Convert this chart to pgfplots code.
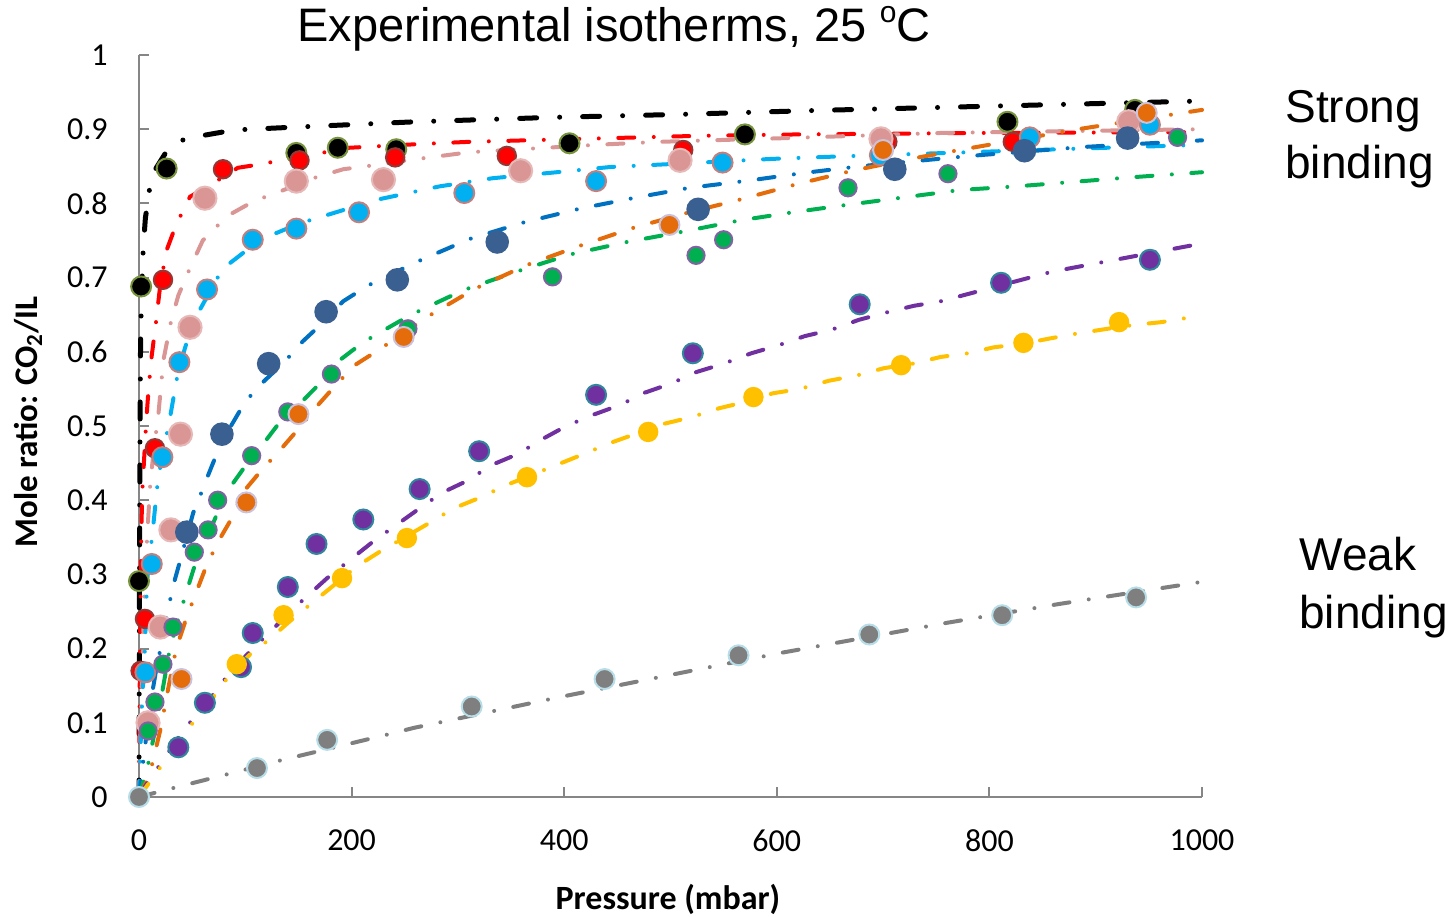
\documentclass[border=0pt]{standalone}
\usepackage{pgfplots}
\pgfplotsset{compat=1.18}
\usepackage{fontspec}
\setmainfont{Liberation Sans}
\newfontfamily\calibri{Carlito}
\definecolor{cOlive}{HTML}{77933C}
\definecolor{cRed}{HTML}{FF0000}
\definecolor{cDarkRed}{HTML}{953735}
\definecolor{cPink}{HTML}{D99694}
\definecolor{cPinkEdge}{HTML}{E6B9B8}
\definecolor{cCyan}{HTML}{00B0F0}
\definecolor{cCyanEdge}{HTML}{C0807F}
\definecolor{cBlueM}{HTML}{3A6091}
\definecolor{cBlueL}{HTML}{0070C0}
\definecolor{cGreen}{HTML}{00B050}
\definecolor{cGreenEdge}{HTML}{8064A2}
\definecolor{cOrange}{HTML}{E46C0A}
\definecolor{cOrangeEdge}{HTML}{CCC1DA}
\definecolor{cPurple}{HTML}{7030A0}
\definecolor{cPurpleEdge}{HTML}{31859C}
\definecolor{cYellow}{HTML}{FFC000}
\definecolor{cGray}{HTML}{7F7F7F}
\definecolor{cGrayEdge}{HTML}{B7DEE8}
\definecolor{axisgray}{HTML}{868686}
\pgfplotsset{
 fitline/.style={line width=2pt, line cap=round, dash pattern=on 8pt off 9.75pt on 0pt off 9.75pt, mark=none},
 dat/.style 2 args={only marks, mark=*, mark size=5pt, mark options={solid, fill=#1, draw=#2, line width=1pt}},
}
\begin{document}
\begin{tikzpicture}
\path[use as bounding box] (0,0) rectangle (728pt,458pt);
\begin{axis}[at={(69.5pt,59.5pt)}, anchor=south west, scale only axis,
 width=531.5pt, height=371pt, xmin=0, xmax=1000, ymin=0, ymax=1,
 axis lines=left, axis line style={-, draw=axisgray, line width=1pt},
 tick align=inside, major tick length=5pt, tick style={draw=axisgray, line width=1pt},
 xtick={0,200,400,600,800,1000}, xticklabels={0,200,400,600,800,1000},
 ytick={0,0.1,0.2,0.3,0.4,0.5,0.6,0.7,0.8,0.9,1},
 yticklabels={0,0.1,0.2,0.3,0.4,0.5,0.6,0.7,0.8,0.9,1},
 xticklabel style={font=\calibri\fontsize{16}{19}\selectfont, anchor=north, inner sep=0pt, yshift=-16pt},
 yticklabel style={font=\calibri\fontsize{16}{19}\selectfont, anchor=east, inner sep=0pt, xshift=-15.5pt},
 clip=false]
% fitted curves
\addplot[fitline, black, line width=2.5pt, dash pattern=on 8.5pt off 11.5pt on 0pt off 11.5pt] coordinates {(0,0)(0.3,0.2)(0.7,0.4)(1,0.5)(1.5,0.62)(2.5,0.68)(4,0.74)(6,0.78)(10,0.82)(15,0.845)(25,0.868)(40,0.885)(62,0.892)(90,0.899)(150,0.903)(260,0.910)(390,0.916)(510,0.920)(630,0.925)(800,0.931)(1000,0.938)};
\addplot[fitline, cRed] coordinates {(0,0)(0.5,0.12)(1,0.2)(1.5,0.28)(2,0.34)(3,0.41)(5,0.46)(7,0.51)(9,0.55)(12,0.595)(16,0.64)(20,0.69)(26,0.737)(32,0.76)(39,0.783)(48,0.809)(64,0.822)(93,0.848)(111,0.852)(126,0.856)(198,0.875)(264,0.88)(311,0.883)(471,0.889)(525,0.891)(622,0.893)(800,0.895)(1000,0.896)};
\addplot[fitline, cPink] coordinates {(0,0)(2,0.12)(4,0.22)(6,0.3)(8,0.36)(10.5,0.42)(14,0.47)(18,0.512)(23,0.589)(30,0.64)(37,0.676)(48,0.713)(60,0.75)(83,0.783)(108,0.803)(136,0.818)(164,0.834)(192,0.846)(224,0.852)(252,0.858)(311,0.869)(431,0.879)(490,0.883)(609,0.888)(756,0.895)(1000,0.9)};
\addplot[fitline, cCyan] coordinates {(0,0)(1,0.05)(3,0.13)(5.6,0.2)(7.5,0.29)(13,0.36)(18,0.43)(29,0.51)(37,0.575)(46,0.618)(57,0.656)(74,0.7)(86,0.72)(114,0.751)(151,0.773)(183,0.787)(224,0.805)(283,0.823)(333,0.834)(393,0.842)(443,0.849)(500,0.853)(596,0.86)(653,0.863)(760,0.868)(866,0.873)(1000,0.879)};
\addplot[fitline, cBlueL] coordinates {(0,0)(5,0.06)(10,0.12)(16,0.17)(21.6,0.21)(27,0.25)(32,0.284)(39,0.32)(51,0.383)(57,0.404)(64,0.43)(73,0.462)(86.5,0.5)(100,0.533)(118,0.561)(136,0.585)(154,0.614)(172,0.638)(192,0.668)(215,0.689)(261,0.721)(311,0.752)(361,0.774)(415,0.793)(468,0.808)(518,0.821)(575,0.831)(625,0.841)(678,0.85)(782,0.864)(888,0.876)(1000,0.885)};
\addplot[fitline, cGreen] coordinates {(0,0)(8,0.04)(18,0.11)(29,0.2)(38,0.245)(45,0.278)(52,0.31)(73,0.38)(86,0.418)(100,0.446)(118,0.478)(135,0.51)(154,0.534)(172,0.56)(190,0.59)(211,0.613)(234,0.632)(256,0.65)(305,0.683)(355,0.708)(405,0.731)(459,0.748)(512,0.762)(565,0.777)(615,0.788)(666,0.798)(719,0.808)(772,0.818)(826,0.823)(879,0.829)(932,0.835)(1000,0.842)};
\addplot[fitline, cOrange] coordinates {(0,0)(10,0.03)(20,0.09)(28,0.15)(35,0.2)(45,0.243)(63,0.31)(74,0.343)(87,0.375)(98,0.411)(115,0.44)(133,0.468)(150,0.496)(167,0.526)(185,0.555)(203,0.582)(226,0.603)(271,0.647)(316,0.685)(365,0.717)(415,0.743)(465,0.767)(515,0.787)(565,0.805)(619,0.826)(671,0.844)(722,0.859)(772,0.872)(879,0.899)(1000,0.926)};
\addplot[fitline, cPurple] coordinates {(0,0)(6,0.015)(19,0.042)(38,0.082)(50,0.104)(71,0.14)(83,0.163)(103,0.194)(120,0.218)(150,0.26)(177,0.295)(220,0.344)(262,0.387)(285,0.41)(310,0.427)(331,0.447)(356,0.462)(379,0.482)(402,0.5)(427,0.515)(452,0.528)(476,0.545)(500,0.557)(525,0.573)(550,0.584)(576,0.598)(602,0.609)(626,0.621)(652,0.63)(677,0.643)(703,0.653)(729,0.662)(754,0.668)(859,0.708)(1000,0.746)};
\addplot[fitline, cYellow] coordinates {(0,0)(20,0.04)(45,0.09)(65,0.125)(84,0.162)(105,0.193)(123,0.213)(142,0.237)(164,0.263)(183,0.285)(205,0.311)(227,0.331)(274,0.37)(296,0.389)(320,0.403)(345,0.42)(418,0.462)(443,0.477)(494,0.503)(520,0.512)(546,0.524)(572,0.533)(596,0.544)(622,0.55)(649,0.561)(675,0.568)(701,0.578)(728,0.584)(754,0.593)(780,0.598)(804,0.606)(832,0.611)(857,0.618)(884,0.625)(911,0.631)(935,0.636)(962,0.64)(1000,0.649)};
\addplot[fitline, cGray] coordinates {(0,0)(32,0.012)(84,0.031)(135,0.05)(187,0.068)(239,0.086)(258,0.093)(397,0.135)(603,0.194)(761,0.235)(865,0.26)(1000,0.29)};
% data points
\addplot[dat={black}{cOlive}] coordinates {(0,0.291)(2,0.688)(26,0.847)(148,0.868)(187,0.875)(242,0.873)(405,0.881)(570,0.893)(817,0.910)(937,0.926)};
\addplot[dat={cRed}{cDarkRed}, mark size=4.6pt] coordinates {(1.5,0.17)(5.6,0.24)(15,0.470)(22.6,0.697)(79,0.846)(151,0.858)(241,0.862)(346,0.864)(512,0.872)(704,0.883)(822,0.883)(931,0.89)};
\addplot[dat={cPink}{cPinkEdge}, mark size=5.8pt] coordinates {(8.5,0.1)(20,0.229)(30,0.36)(39,0.489)(48,0.633)(62,0.807)(148,0.830)(230,0.832)(359,0.844)(509,0.858)(698,0.887)(931,0.910)};
\addplot[dat={cCyan}{cCyanEdge}] coordinates {(6,0.168)(12,0.314)(22,0.458)(38,0.586)(64,0.684)(107,0.751)(148,0.766)(207,0.788)(306,0.814)(430,0.830)(549,0.855)(697,0.865)(838,0.889)(951,0.906)};
\addplot[dat={cBlueM}{cBlueM}, mark size=5.4pt] coordinates {(45,0.357)(78,0.489)(122,0.584)(176,0.654)(243,0.697)(337,0.748)(526,0.792)(711,0.846)(833,0.871)(930,0.888)};
\addplot[dat={cGreen}{cGreenEdge}, mark size=4.3pt] coordinates {(8.6,0.089)(15,0.128)(22.5,0.179)(32,0.229)(52,0.330)(65,0.36)(74,0.400)(106,0.460)(140,0.519)(181,0.570)(253,0.631)(389,0.701)(524,0.730)(550,0.751)(667,0.821)(761,0.840)(977,0.889)};
\addplot[dat={cOrange}{cOrangeEdge}] coordinates {(40,0.159)(101,0.397)(150,0.516)(249,0.620)(499,0.771)(700,0.872)(948,0.922)};
\addplot[dat={cPurple}{cPurpleEdge}] coordinates {(37,0.067)(62,0.127)(96,0.175)(107,0.221)(140,0.283)(167,0.341)(211,0.374)(264,0.415)(320,0.466)(430,0.542)(521,0.598)(678,0.664)(811,0.693)(951,0.724)};
\addplot[dat={cYellow}{cYellow}, mark size=4.6pt] coordinates {(92,0.179)(136,0.245)(191,0.295)(252,0.349)(365,0.431)(479,0.492)(578,0.539)(717,0.582)(832,0.612)(922,0.640)};
\addplot[dat={cGray}{cGrayEdge}] coordinates {(0,0)(111,0.039)(177,0.077)(313,0.122)(438,0.159)(564,0.191)(687,0.219)(812,0.245)(938,0.269)};
\end{axis}
\node[anchor=base, inner sep=0pt, font=\fontsize{23.5}{27}\selectfont] at (307pt,437pt) {Experimental isotherms, 25 \raisebox{0.42em}{\fontsize{15}{15}\selectfont o}C};
\node[anchor=base west, inner sep=0pt, font=\fontsize{23}{27}\selectfont] at (642.5pt,396.5pt) {Strong};
\node[anchor=base west, inner sep=0pt, font=\fontsize{23}{27}\selectfont] at (642.5pt,368.5pt) {binding};
\node[anchor=base west, inner sep=0pt, font=\fontsize{23}{27}\selectfont] at (649.5pt,172.5pt) {Weak};
\node[anchor=base west, inner sep=0pt, font=\fontsize{23}{27}\selectfont] at (649.5pt,143.5pt) {binding};
\node[rotate=90, inner sep=0pt, font=\calibri\bfseries\fontsize{16.5}{20}\selectfont] at (14pt,247pt) {Mole ratio: CO\textsubscript{2}/IL};
\node[anchor=base, inner sep=0pt, font=\calibri\bfseries\fontsize{17}{20}\selectfont] at (334pt,3.5pt) {Pressure (mbar)};
\end{tikzpicture}
\end{document}
